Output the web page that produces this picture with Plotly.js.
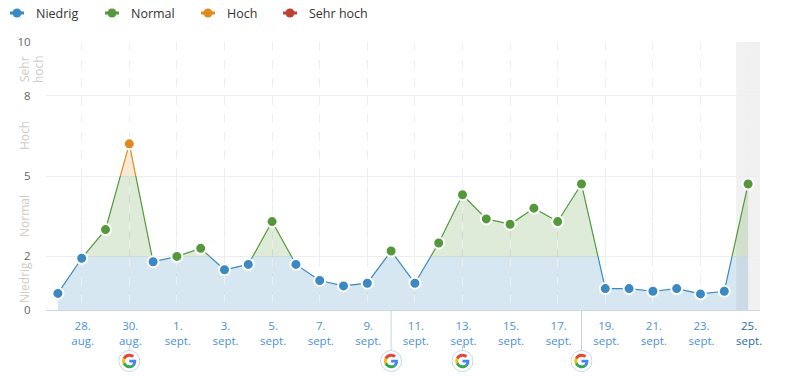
<!DOCTYPE html>
<html><head><meta charset="utf-8">
<script src="https://cdn.plot.ly/plotly-3.0.1.min.js"></script>
<style>html,body{margin:0;padding:0;background:#fff}</style></head>
<body><div id="chart" style="width:785px;height:382px"></div>
<script>
const days = ["27. aug.","28. aug.","29. aug.","30. aug.","31. aug.","1. sept.","2. sept.","3. sept.","4. sept.","5. sept.","6. sept.","7. sept.","8. sept.","9. sept.","10. sept.","11. sept.","12. sept.","13. sept.","14. sept.","15. sept.","16. sept.","17. sept.","18. sept.","19. sept.","20. sept.","21. sept.","22. sept.","23. sept.","24. sept.","25. sept."];
const volatility = [0.62,1.93,3.0,6.2,1.8,2.0,2.3,1.5,1.7,3.3,1.7,1.1,0.9,1.0,2.2,1.0,2.5,4.3,3.4,3.2,3.8,3.3,4.7,0.8,0.8,0.7,0.8,0.6,0.7,4.7];
const bandNames = ["Niedrig","Normal","Hoch","Sehr hoch"];
const bandLow = [0,2,5,8];
const bandHigh = [2,5,8,10];
const bandColors = ["#3a88c4","#53993b","#e08a1e","#bd4234"];
const bandFills = ["rgba(52,136,190,0.2)","rgba(83,153,59,0.2)","rgba(224,138,30,0.2)","rgba(189,66,52,0.18)"];
const yTicks = [0,2,5,8,10];
const updateDays = ["30. aug.","10. sept.","13. sept.","18. sept."];
const tallStemDays = ["10. sept.","18. sept."];

const FONT = '"Open Sans","Noto Sans",sans-serif';
const PLOT_H = 268, PLOT_W = 714;
const idx = days.map((_, i) => i);
const bandOf = v => bandLow.reduce((b, low, i) => v >= low ? i : b, 0);

const traces = [];
// invisible carrier so the main subplot (grid, y ticks) exists
traces.push({x: idx, y: volatility, type: 'scatter', mode: 'lines', line: {width: 0}, showlegend: false, hoverinfo: 'skip'});
// Each band is its own subplot: the plot area clips the same line to the band.
bandNames.forEach((name, b) => {
  traces.push({
    x: idx, y: volatility, yaxis: 'y' + (b + 2), type: 'scatter', mode: 'lines',
    fill: 'tozeroy', fillcolor: bandFills[b],
    line: {color: bandColors[b], width: 1.2}, showlegend: false, hoverinfo: 'skip'
  });
});
bandNames.forEach((name, b) => {
  traces.push({
    x: idx, y: volatility.map(v => bandOf(v) === b ? v : null),
    yaxis: 'y6', type: 'scatter', mode: 'markers', name: name, cliponaxis: false, showlegend: false,
    marker: {color: bandColors[b], size: 11, line: {color: '#fff', width: 2}}
  });
});

const tickIdx = idx.filter(i => i % 2 === 1);
const tickText = tickIdx.map(i => {
  const [d, m] = days[i].split(' ');
  return i === days.length - 1
    ? '<span style="color:#1f6cab">' + d + '<br>' + m + '</span>'
    : d + '<br>' + m;
});

const layout = {
  width: 785, height: 382, paper_bgcolor: '#fff', plot_bgcolor: 'rgba(0,0,0,0)',
  margin: {l: 46, r: 25, t: 42, b: 72, autoexpand: false},
  font: {family: FONT, size: 12, color: '#555'},
  hovermode: false,
  showlegend: false,
  xaxis: {anchor: 'y', range: [-0.5, 29.5], tickmode: 'array', tickvals: tickIdx, ticktext: tickText,
    tickfont: {family: FONT, size: 11.5, color: '#4a92dc'}, ticks: 'outside', ticklen: 5, tickcolor: 'rgba(0,0,0,0)',
    ticklabelshift: 1,
    showgrid: true, griddash: 'dash', gridcolor: '#eeeeee', gridwidth: 1,
    showline: true, linecolor: '#c9d6e4', linewidth: 1, zeroline: false, fixedrange: true},
  yaxis: {range: [0, 10], anchor: 'x', tickmode: 'array', tickvals: yTicks, ticktext: yTicks.map(String),
    tickfont: {family: FONT, size: 11.5, color: '#666'}, ticks: 'outside', ticklen: 12, tickcolor: 'rgba(0,0,0,0)',
    showgrid: true, gridcolor: '#eeeeee', gridwidth: 1, zeroline: false, showline: false, fixedrange: true},
  yaxis6: {domain: [0, 1], anchor: 'x', range: [0, 10], visible: false, fixedrange: true},
  shapes: [], annotations: [], images: []
};
bandNames.forEach((name, b) => {
  layout['yaxis' + (b + 2)] = {domain: [bandLow[b] / 10, bandHigh[b] / 10], range: [bandLow[b], bandHigh[b]],
    visible: false, fixedrange: true, anchor: 'x'};
});

// today's band
layout.shapes.push({type: 'rect', layer: 'below', xref: 'x', yref: 'paper', x0: 28.5, x1: 29.5, y0: 0, y1: 1,
  fillcolor: '#f1f1f1', line: {width: 0}});

// google update stems and icons
const G = 'data:image/svg+xml;utf8,' + encodeURIComponent('<svg xmlns="http://www.w3.org/2000/svg" viewBox="0 0 66 66"><circle cx="33" cy="33" r="31.5" fill="#fff" stroke="#c6d6e6" stroke-width="3"/><g transform="translate(11.4 11.4) scale(0.9)"><path fill="#EA4335" d="M24 9.5c3.54 0 6.71 1.22 9.21 3.6l6.85-6.85C35.9 2.38 30.47 0 24 0 14.62 0 6.51 5.38 2.56 13.22l7.98 6.19C12.43 13.72 17.74 9.5 24 9.5z"/><path fill="#4285F4" d="M46.98 24.55c0-1.57-.15-3.09-.38-4.55H24v9.02h12.94c-.58 2.96-2.26 5.48-4.78 7.18l7.73 6c4.51-4.18 7.09-10.36 7.09-17.65z"/><path fill="#FBBC05" d="M10.53 28.59c-.48-1.45-.76-2.99-.76-4.59s.27-3.14.76-4.59l-7.98-6.19C.92 16.46 0 20.12 0 24c0 3.88.92 7.54 2.56 10.78l7.97-6.19z"/><path fill="#34A853" d="M24 48c6.48 0 11.93-2.13 16.03-5.81l-7.73-6c-2.15 1.45-4.92 2.3-8.3 2.3-6.26 0-11.57-4.22-13.47-9.91l-7.98 6.19C6.51 42.62 14.62 48 24 48z"/></g></svg>');
updateDays.forEach(d => {
  const i = days.indexOf(d);
  const tall = tallStemDays.includes(d);
  layout.shapes.push({type: 'line', layer: 'above', xref: 'x', yref: 'paper', x0: i, x1: i,
    y0: tall ? 0 : -35 / PLOT_H, y1: -41 / PLOT_H, line: {color: '#c6d3e2', width: 1}});
  layout.images.push({source: G, xref: 'paper', yref: 'paper', x: (i + 0.5) / 30, y: -51 / PLOT_H,
    sizex: 22 / PLOT_W, sizey: 22 / PLOT_H, xanchor: 'center', yanchor: 'middle', sizing: 'stretch', layer: 'above'});
});

// legend
const px2x = p => (p - 46) / PLOT_W, py2y = p => (310 - p) / PLOT_H;
bandNames.forEach((name, b) => {
  const cx = [17, 112, 208, 290][b], cy = 13, c = bandColors[b];
  layout.shapes.push({type: 'line', layer: 'above', xref: 'paper', yref: 'paper',
    x0: px2x(cx - 7), x1: px2x(cx + 7), y0: py2y(cy), y1: py2y(cy), line: {color: c, width: 3}});
  layout.shapes.push({type: 'circle', layer: 'above', xref: 'paper', yref: 'paper',
    x0: px2x(cx - 4.5), x1: px2x(cx + 4.5), y0: py2y(cy - 4.5), y1: py2y(cy + 4.5), fillcolor: c, line: {width: 0}});
  layout.annotations.push({text: name, xref: 'paper', yref: 'paper', x: px2x(cx + 19), y: py2y(cy),
    xanchor: 'left', yanchor: 'middle', showarrow: false, xshift: -2,
    font: {family: FONT, size: 12.5, color: '#333'}});
});

// band labels beside the y axis
const bandLabels = [["Niedrig",24,283],["Normal",24,216],["Hoch",24,136],["Sehr",24,69],["hoch",38,69]];
bandLabels.forEach(([t, px, py]) => {
  layout.annotations.push({text: t, xref: 'paper', yref: 'paper', x: px2x(px), y: py2y(py),
    xanchor: 'center', yanchor: 'middle', showarrow: false, textangle: -90,
    font: {family: FONT, size: 12, color: '#cfcac6'}});
});

Plotly.newPlot('chart', traces, layout, {displayModeBar: false, staticPlot: true});
</script></body></html>
